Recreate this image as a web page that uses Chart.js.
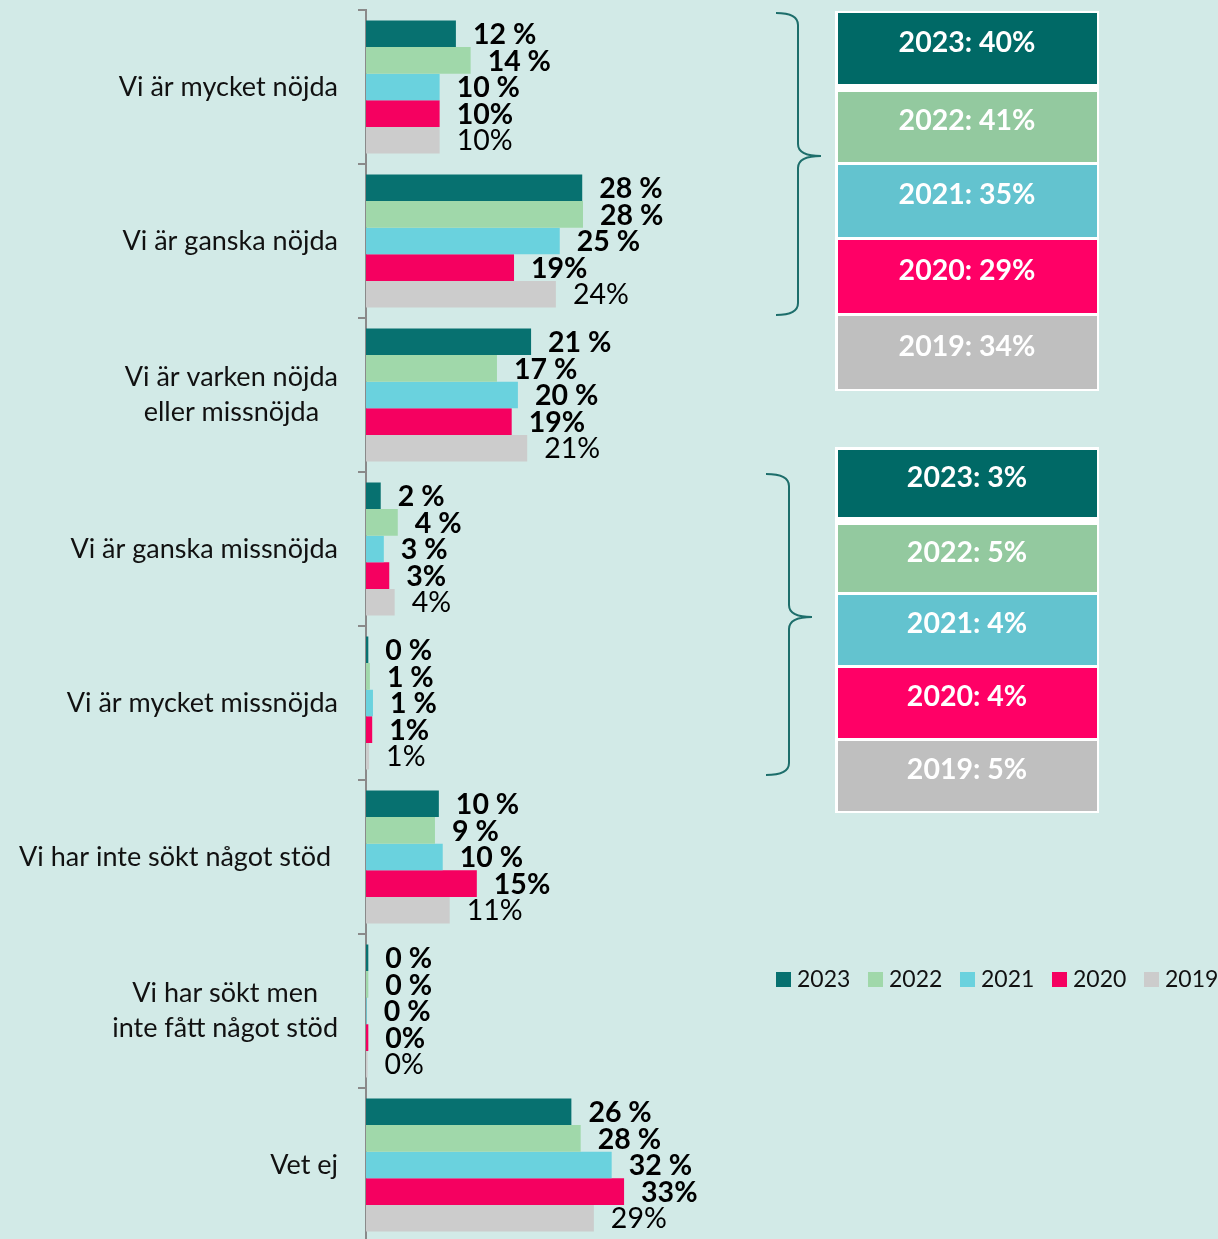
<!DOCTYPE html>
<html>
<head>
<meta charset="utf-8">
<script src="https://cdn.jsdelivr.net/npm/chart.js@4/dist/chart.umd.min.js"></script>
<style>
  html, body { margin: 0; padding: 0; background: #d2eae7; overflow: hidden; }
  #wrap { position: absolute; left: 0; top: 0; width: 1218px; height: 1250px; }
</style>
</head>
<body>
<div id="wrap"><canvas id="c" width="1218" height="1250"></canvas></div>
<script>
// ---- data ----
const categories = [
  'Vi är mycket nöjda',
  'Vi är ganska nöjda',
  ['Vi är varken nöjda', 'eller missnöjda'],
  'Vi är ganska missnöjda',
  'Vi är mycket missnöjda',
  'Vi har inte sökt något stöd ',
  ['Vi har sökt men', 'inte fått något stöd'],
  'Vet ej'
];
const seriesNames = ['2023', '2022', '2021', '2020', '2019'];
const v2023 = [11.6, 27.9, 21.3, 1.9, 0.3, 9.4, 0.3, 26.5];
const v2022 = [13.5, 28.0, 16.9, 4.1, 0.5, 8.9, 0.3, 27.7];
const v2021 = [9.5, 25.0, 19.6, 2.3, 0.9, 9.9, 0.1, 31.7];
const v2020 = [9.5, 19.1, 18.8, 3.0, 0.8, 14.3, 0.3, 33.3];
const v2019 = [9.5, 24.5, 20.8, 3.7, 0.4, 10.8, 0.2, 29.4];
const l2023 = ['12 %', '28 %', '21 %', '2 %', '0 %', '10 %', '0 %', '26 %'];
const l2022 = ['14 %', '28 %', '17 %', '4 %', '1 %', '9 %', '0 %', '28 %'];
const l2021 = ['10 %', '25 %', '20 %', '3 %', '1 %', '10 %', '0 %', '32 %'];
const l2020 = ['10%', '19%', '19%', '3%', '1%', '15%', '0%', '33%'];
const l2019 = ['10%', '24%', '21%', '4%', '1%', '11%', '0%', '29%'];
const summaryTop = ['2023: 40%', '2022: 41%', '2021: 35%', '2020: 29%', '2019: 34%'];
const summaryBottom = ['2023: 3%', '2022: 5%', '2021: 4%', '2020: 4%', '2019: 5%'];

// ---- styles ----
const barColors = ['#077170', '#a0d8aa', '#6ad2de', '#f50060', '#cccccc'];
const boxColors = ['#006966', '#93c99f', '#63c3cf', '#ff0066', '#bfbfbf'];
const labelSets = [l2023, l2022, l2021, l2020, l2019];
const FONT = 'Lato, "Open Sans", sans-serif';

const yLabelPlugin = {
  id: 'yLabels',
  afterDraw(chart) {
    const ctx = chart.ctx, ys = chart.scales.y;
    ctx.save();
    ctx.font = '27px ' + FONT;
    ctx.fillStyle = '#111111';
    ctx.textAlign = 'center';
    ctx.textBaseline = 'middle';
    categories.forEach((c, i) => {
      const lines = Array.isArray(c) ? c : [c];
      const w = Math.max(...lines.map(l => ctx.measureText(l).width));
      const cx = 338 - w / 2;
      const cy = ys.getPixelForValue(i);
      lines.forEach((l, j) => {
        ctx.fillText(l, cx, cy + (j - (lines.length - 1) / 2) * 35);
      });
    });
    ctx.restore();
  }
};

const valueLabelPlugin = {
  id: 'valueLabels',
  afterDatasetsDraw(chart) {
    const ctx = chart.ctx;
    ctx.save();
    ctx.fillStyle = '#000000';
    ctx.textAlign = 'left';
    ctx.textBaseline = 'middle';
    chart.data.datasets.forEach((ds, di) => {
      const meta = chart.getDatasetMeta(di);
      ctx.font = (di < 4 ? 'bold ' : '') + '28.5px ' + FONT;
      meta.data.forEach((el, i) => {
        ctx.fillText(labelSets[di][i], el.x + 17, el.y + 1);
      });
    });
    ctx.restore();
  }
};

function drawBrace(ctx, xEnd, xSpine, xTip, yTop, yTip, yBot) {
  const r = 12;
  ctx.beginPath();
  ctx.moveTo(xEnd, yTop);
  ctx.quadraticCurveTo(xSpine, yTop, xSpine, yTop + r);
  ctx.lineTo(xSpine, yTip - r);
  ctx.quadraticCurveTo(xSpine, yTip, xTip, yTip);
  ctx.quadraticCurveTo(xSpine, yTip, xSpine, yTip + r);
  ctx.lineTo(xSpine, yBot - r);
  ctx.quadraticCurveTo(xSpine, yBot, xEnd, yBot);
  ctx.stroke();
}

function drawBoxes(ctx, texts, outerTop, outerBot, fills) {
  ctx.fillStyle = '#ffffff';
  ctx.fillRect(835, outerTop, 264, outerBot - outerTop);
  texts.forEach((t, i) => {
    const [a, b] = fills[i];
    ctx.fillStyle = boxColors[i];
    ctx.fillRect(838, a, 259, b - a);
    ctx.fillStyle = '#ffffff';
    ctx.font = 'bold 28.5px ' + FONT;
    ctx.textAlign = 'center';
    ctx.textBaseline = 'middle';
    ctx.fillText(t, 967, (a + b) / 2 - 6);
  });
}

const sidePlugin = {
  id: 'side',
  afterDraw(chart) {
    const ctx = chart.ctx;
    ctx.save();
    drawBoxes(ctx, summaryTop, 11, 391, [[13, 84], [92, 162], [165, 237], [240, 313], [316, 389]]);
    drawBoxes(ctx, summaryBottom, 447, 813, [[450, 517], [525, 592], [595, 665], [668, 738], [741, 811]]);
    ctx.strokeStyle = '#1d6e6b';
    ctx.lineWidth = 2;
    drawBrace(ctx, 776, 798, 821, 13, 156, 315);
    drawBrace(ctx, 766, 789, 812, 474, 617, 775);
    ctx.font = '23px ' + FONT;
    ctx.textAlign = 'left';
    ctx.textBaseline = 'middle';
    seriesNames.forEach((n, i) => {
      const x = 776 + i * 92;
      ctx.fillStyle = barColors[i];
      ctx.fillRect(x, 972, 15, 15);
      ctx.fillStyle = '#111111';
      ctx.fillText(n, x + 21, 980);
    });
    ctx.restore();
  }
};

const seriesValues = [v2023, v2022, v2021, v2020, v2019];
const xMax = 50;
const pxPerUnit = 7.75;
const chartLeft = 366;

new Chart(document.getElementById('c'), {
  type: 'bar',
  data: {
    labels: categories,
    datasets: seriesNames.map((n, i) => ({
      label: n,
      data: seriesValues[i],
      backgroundColor: barColors[i],
      borderWidth: 0,
      categoryPercentage: 0.864,
      barPercentage: 1.0
    }))
  },
  options: {
    indexAxis: 'y',
    responsive: false,
    animation: false,
    devicePixelRatio: 1,
    layout: {
      padding: { left: chartLeft - 8, top: 10, bottom: 8, right: 1218 - chartLeft - xMax * pxPerUnit }
    },
    plugins: { legend: { display: false }, tooltip: { enabled: false } },
    scales: {
      x: { display: false, min: 0, max: xMax },
      y: {
        afterFit(scale) { scale.width = 8; },
        ticks: { display: false },
        grid: { drawOnChartArea: false, drawTicks: true, tickLength: 8, color: '#8a8a8a', lineWidth: 2 },
        border: { display: true, color: '#8a8a8a', width: 2 }
      }
    }
  },
  plugins: [yLabelPlugin, valueLabelPlugin, sidePlugin]
});
</script>
</body>
</html>
